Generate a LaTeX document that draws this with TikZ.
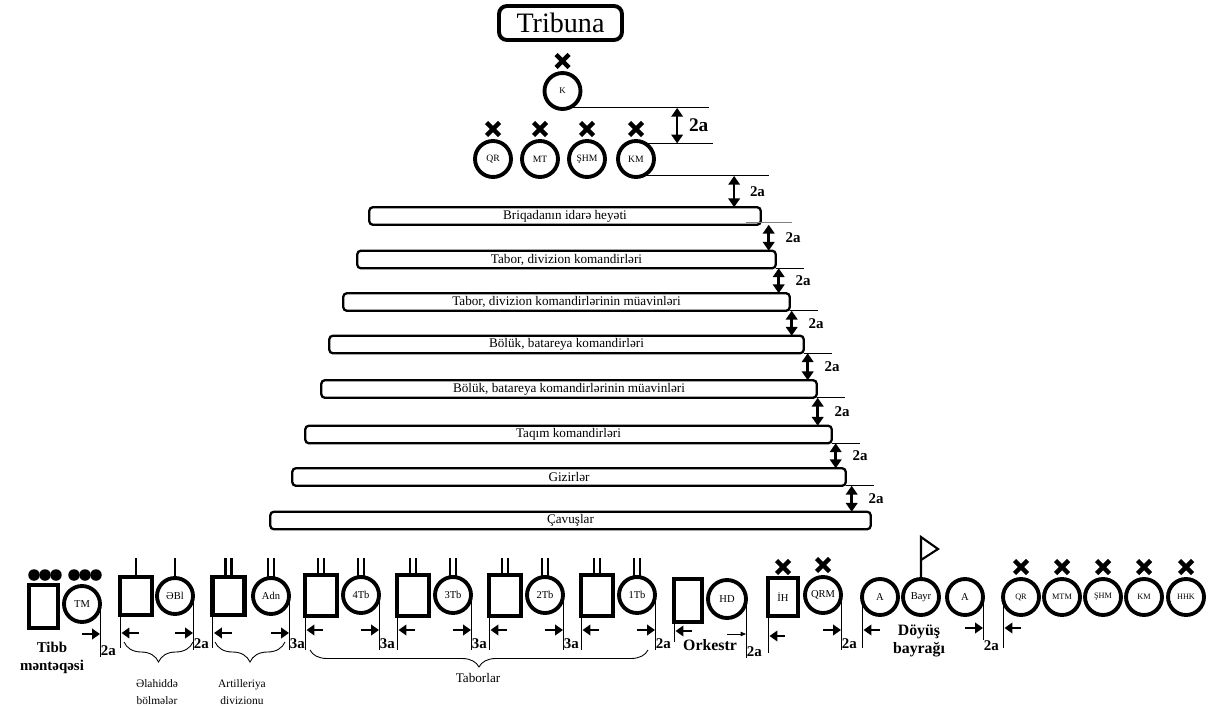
\documentclass[tikz,border=0pt]{standalone}
\usepackage{fontspec}
\setmainfont{Liberation Serif}
\usetikzlibrary{arrows.meta,positioning,calc,decorations.pathreplacing}
\newcommand{\kross}[1]{\draw[cross] ($(#1)+(-6.5,-36.5)$) -- ($(#1)+(6.5,-23.5)$) ($(#1)+(-6.5,-23.5)$) -- ($(#1)+(6.5,-36.5)$);}

\begin{document}
\begin{tikzpicture}[x=0.02cm, y=-0.02cm,
  every node/.style={inner sep=0pt, outer sep=0pt},
  bar/.style={draw, line width=1.3pt, rounded corners=2pt, minimum height=0.35cm, font=\fontsize{7.5}{9}\selectfont},
  unit/.style={draw, circle, line width=2.2pt, minimum size=0.72cm, font=\fontsize{6}{7}\selectfont},
  sq/.style={draw, line width=2.3pt},
  dim/.style={line width=0.5pt},
  rank/.style={line width=1.6pt},
  cross/.style={line width=2.6pt},
  dimarr/.style={{Triangle[length=5pt,width=6.5pt]}-{Triangle[length=5pt,width=6.5pt]}, line width=1.5pt},
  pt/.style={-{Triangle[length=4.5pt,width=6pt]}, line width=1.5pt},
  gap/.style={font=\bfseries\fontsize{8.5}{10}\selectfont, inner sep=0.5pt},
  captxt/.style={font=\bfseries\fontsize{9}{10.5}\selectfont, align=center},
  grp/.style={font=\fontsize{6.5}{10}\selectfont, align=center}]
\useasboundingbox (0,0) rectangle (1210,706);

% tribune and command
\node[draw, line width=2.2pt, rounded corners=4.5pt, minimum width=2.46cm, minimum height=0.68cm, font=\fontsize{16}{18}\selectfont] (tribuna) at (560.5,23) {Tribuna};
\node[unit, font=\fontsize{5}{6}\selectfont] (k) at (562.5,91) {K};
\node[unit, font=\fontsize{5.5}{6}\selectfont] (qr) at (493,159) {QR};
\node[unit, font=\fontsize{5.5}{6}\selectfont] (mt) at (540,159) {MT};
\node[unit, font=\fontsize{5.5}{6}\selectfont] (shm) at (587,159) {ŞHM};
\node[unit, font=\fontsize{5.5}{6}\selectfont] (km) at (636,159) {KM};
\foreach \u in {k,qr,mt,shm,km} \kross{\u};

\draw[dim] (k.-70) -- ++(2.81cm,0) coordinate (kend);
\draw[dim] (km.60) -- ++(1.36cm,0) coordinate (kmtop);
\draw[dim] (km.-70) -- ++(2.54cm,0) coordinate (kmbot);
\draw[dimarr] ($(kend)+(-0.64cm,0)$) -- ($(kend |- kmtop)+(-0.64cm,0)$) node[midway, right=0.22cm, gap, font=\bfseries\fontsize{11}{13}\selectfont] {2a};

% ranks
\node[bar, minimum width=7.83cm] (b1) at (565,216) {Briqadanın idarə heyəti};
\node[bar, minimum width=8.37cm] (b2) at (566.5,259.5) {Tabor, divizion komandirləri};
\node[bar, minimum width=8.93cm] (b3) at (566.5,302) {Tabor, divizion komandirlərinin müavinləri};
\node[bar, minimum width=9.49cm] (b4) at (566.5,344.5) {Bölük, batareya komandirləri};
\node[bar, minimum width=9.91cm] (b5) at (569,389) {Bölük, batareya komandirlərinin müavinləri};
\node[bar, minimum width=10.53cm] (b6) at (568.5,434.5) {Taqım komandirləri};
\node[bar, minimum width=11.07cm] (b7) at (569,477) {Gizirlər};
\node[bar, minimum width=12.01cm] (b8) at (570.5,520.5) {Çavuşlar};

\draw[dimarr] ($(kmbot)+(-0.7cm,0)$) -- ($(kmbot |- b1.north)+(-0.7cm,0)$) node[midway, right=0.3cm, gap] {2a};
\draw[dim, gray] ([xshift=-0.3cm, yshift=0.04cm]b1.south east) -- ++(0.92cm,0);
\foreach \a in {b2,b3,b4,b5,b6,b7} \draw[dim] (\a.south east) -- ++(0.56cm,0);
\foreach \a/\b/\d in {b1/b2/0.14cm,b2/b3/0.22cm,b3/b4/0.24cm,b4/b5/0.18cm,b5/b6/0.28cm,b6/b7/0.2cm,b7/b8/0.38cm}
  \draw[dimarr] ($(\a.south -| \b.east)+(-\d,0)$) -- ($(\b.north east)+(-\d,0)$) node[midway, right=0.32cm, gap] {2a};

% medical post
\node[sq, minimum width=0.58cm, minimum height=0.86cm] (tibb) at (43.5,606.5) {};
\node[unit] (tm) at (82,604) {TM};
\foreach \x in {34,45,56,74,85,96} \fill (\x,575) circle (0.115cm);
\draw[dim] (tm.east) -- (tm.east |- 0,657) node[gap, anchor=south west] {2a};
\draw[pt] (tm.center |- 0,634) -- (tm.east |- 0,634);
\node[captxt, font=\bfseries\fontsize{8.5}{10.5}\selectfont] (tibbtxt) at (52,658) {Tibb\\məntəqəsi};

% separate units
\node[sq, minimum width=0.64cm, minimum height=0.76cm] (eblr) at (136,596) {};
\node[unit] (ebl) at (175,596) {ƏBl};
\draw[rank] (eblr.north) -- ++(0,0.38cm);
\draw[rank] (ebl.north) -- ++(0,0.4cm);
\draw[dim] (eblr.south west) -- (eblr.south west |- 0,648);
\draw[dim] (ebl.east) -- (ebl.east |- 0,650) node[gap, anchor=south west] {2a};
\draw[pt] ([xshift=0.38cm]eblr.south west |- 0,633) -- ([xshift=0.03cm]eblr.south west |- 0,633);
\draw[pt] (ebl.center |- 0,633) -- (ebl.east |- 0,633);
\draw[dim, decorate, decoration={brace, mirror, amplitude=0.4cm}] (124,642) -- (193,642);
\node[grp] (ebltxt) at (157,692) {Əlahiddə\\bölmələr};

% artillery
\node[sq, minimum width=0.64cm, minimum height=0.76cm] (adnr) at (228.5,596) {};
\node[unit] (adn) at (271,596) {Adn};
\foreach \s in {-1.7pt,1.7pt} {
  \draw[rank] ([xshift=\s]adnr.north) -- ++(0,0.38cm);
  \draw[rank] ([xshift=\s]adn.north) -- ++(0,0.4cm);
}
\draw[dim] (adnr.south west) -- (adnr.south west |- 0,648);
\draw[dim] (adn.east) -- (adn.east |- 0,650) node[gap, anchor=south west] {3a};
\draw[pt] ([xshift=0.38cm]adnr.south west |- 0,633) -- ([xshift=0.03cm]adnr.south west |- 0,633);
\draw[pt] (adn.center |- 0,633) -- (adn.east |- 0,633);
\draw[dim, decorate, decoration={brace, mirror, amplitude=0.4cm}] (215,642) -- (285,642);
\node[grp] (adntxt) at (242,692) {Artilleriya\\divizionu};

% battalions
\foreach \i/\n/\g in {0/4/3a,1/3/3a,2/2/3a,3/1/2a} {
  \node[sq, minimum width=0.64cm, minimum height=0.82cm] (tbr\n) at ({321+92*\i},595.5) {};
  \node[unit] (tb\n) at ({361+92*\i},595) {\n Tb};
  \foreach \s in {-1.7pt,1.7pt} {
    \draw[rank] ([xshift=\s]tbr\n.north) -- ++(0,0.34cm);
    \draw[rank] ([xshift=\s]tb\n.north) -- ++(0,0.38cm);
  }
  \draw[dim] (tbr\n.south west) -- (tbr\n.south west |- 0,650);
  \draw[dim] (tb\n.east) -- (tb\n.east |- 0,650) node[gap, anchor=south west] {\g};
  \draw[pt] ([xshift=0.36cm]tbr\n.south west |- 0,630) -- ([xshift=0.03cm]tbr\n.south west |- 0,630);
  \draw[pt] (tb\n.center |- 0,630) -- (tb\n.east |- 0,630);
}
\draw[dim, decorate, decoration={brace, mirror, amplitude=0.34cm}] (310,650) -- (648,650);
\node[grp, font=\fontsize{7.5}{9}\selectfont] (tbtxt) at (478,678) {Taborlar};

% band
\node[sq, minimum width=0.56cm, minimum height=0.86cm] (orkr) at (688,600.5) {};
\node[unit, minimum size=0.76cm] (hd) at (727,599) {HD};
\draw[dim] (orkr.south west) -- (orkr.south west |- 0,642);
\draw[dim] (hd.east) -- (hd.east |- 0,658) node[gap, anchor=south west] {2a};
\draw[pt] ([xshift=0.36cm]orkr.south west |- 0,631) -- ([xshift=0.03cm]orkr.south west |- 0,631);
\draw[-{Triangle[length=3pt,width=2.5pt]}, line width=0.4pt] (hd.center |- 0,634) -- (hd.east |- 0,634);
\node[captxt] (orktxt) at (710,645) {Orkestr};

% staff
\node[sq, minimum width=0.6cm, minimum height=0.76cm] (ihr) at (783,597) {};
\node[font=\fontsize{6}{7}\selectfont] (ih) at (ihr) {İH};
\node[unit] (qrm) at (823,595) {QRM};
\kross{ihr} \kross{qrm}
\draw[dim] (ihr.south west) -- (ihr.south west |- 0,653);
\draw[dim] (qrm.east) -- (qrm.east |- 0,650) node[gap, anchor=south west] {2a};
\draw[pt] ([xshift=0.34cm]ihr.south west |- 0,636) -- ([xshift=0.03cm]ihr.south west |- 0,636);
\draw[pt] (qrm.center |- 0,630) -- (qrm.east |- 0,630);

% battle flag
\node[unit] (a1) at (880,597) {A};
\node[unit] (bayr) at (921,597) {Bayr};
\node[unit] (a2) at (965,597) {A};
\draw[line width=1.2pt] (bayr.north) -- ++(0,0.84cm) -- ++(0.34cm,-0.24cm) -- ++(-0.34cm,-0.22cm);
\draw[dim] (a1.west) -- (a1.west |- 0,648);
\draw[dim] (a2.east) -- (a2.east |- 0,640) node[gap, anchor=north west] {2a};
\draw[pt] ([xshift=0.36cm]a1.west |- 0,630) -- ([xshift=0.03cm]a1.west |- 0,630);
\draw[pt] (a2.center |- 0,628) -- (a2.east |- 0,628);
\node[captxt] (flagtxt) at (919,641) {Döyüş\\bayrağı};

% rear staff
\node[unit, font=\fontsize{4.7}{5}\selectfont] (qr2) at (1021,597) {QR};
\node[unit, font=\fontsize{4.7}{5}\selectfont] (mtm) at (1062,597) {MTM};
\node[unit, font=\fontsize{4.7}{5}\selectfont] (shm2) at (1103,597) {ŞHM};
\node[unit, font=\fontsize{4.7}{5}\selectfont] (km2) at (1144,597) {KM};
\node[unit, font=\fontsize{4.7}{5}\selectfont] (hhk) at (1186,597) {HHK};
\foreach \u in {qr2,mtm,shm2,km2,hhk} \kross{\u};
\draw[dim] (qr2.west) -- (qr2.west |- 0,648);
\draw[pt] ([xshift=0.36cm]qr2.west |- 0,628) -- ([xshift=0.03cm]qr2.west |- 0,628);
\end{tikzpicture}
\end{document}
